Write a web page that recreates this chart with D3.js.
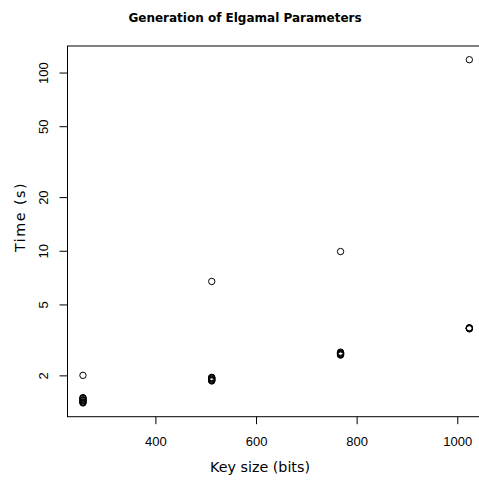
<!DOCTYPE html>
<html>
<head>
<meta charset="utf-8">
<script src="https://cdn.jsdelivr.net/npm/d3@7"></script>
<style>
  html, body { margin: 0; padding: 0; background: #fff; }
  svg { display: block; }
  text { font-family: "DejaVu Sans", sans-serif; fill: #000; }
</style>
</head>
<body>
<svg id="chart" width="479" height="480"></svg>
<script>
// Data (overlapping runs per key size)
const keySizes = [256, 512, 768, 1024];
const times256  = [2.0, 1.40, 1.41, 1.42, 1.44, 1.45, 1.46, 1.48, 1.49, 1.50];
const times512  = [6.73, 1.86, 1.87, 1.88, 1.90, 1.91, 1.93, 1.94, 1.95];
const times768  = [9.9, 2.60, 2.61, 2.63, 2.64, 2.66, 2.68, 2.70];
const times1024 = [118, 3.65, 3.66, 3.68, 3.69, 3.70];
const xTicks = [400, 600, 800, 1000];
const yTicks = [2, 5, 10, 20, 50, 100];
const titleText = "Generation of Elgamal Parameters";
const xLabel = "Key size (bits)";
const yLabel = "Time (s)";

(function () {
const groups = [times256, times512, times768, times1024];
const points = [];
groups.forEach((arr, i) => arr.forEach(v => points.push({x: keySizes[i], y: v})));

const svg = d3.select("#chart");
const mLeft = 67.5, mRight = 484.8, mTop = 46, mBottom = 416.7;
const tickFont = "Liberation Sans, Arial, sans-serif";

const xExt = d3.extent(keySizes);
const xPad = (xExt[1] - xExt[0]) * 0.04;
const x = d3.scaleLinear().domain([xExt[0] - xPad, xExt[1] + xPad]).range([mLeft, mRight]);

const yExt = d3.extent(points, d => Math.log10(d.y));
const yPad = (yExt[1] - yExt[0]) * 0.04;
const y = d3.scaleLog().domain([Math.pow(10, yExt[0] - yPad), Math.pow(10, yExt[1] + yPad)]).range([mBottom, mTop]);

// Box
svg.append("rect")
  .attr("x", mLeft).attr("y", mTop)
  .attr("width", mRight - mLeft).attr("height", mBottom - mTop)
  .attr("fill", "none").attr("stroke", "#000").attr("stroke-width", 1);

// X axis
const xAxis = d3.axisBottom(x).tickValues(xTicks).tickSize(7.5).tickPadding(12.5).tickFormat(d3.format("d"));
const gx = svg.append("g").attr("transform", `translate(0,${mBottom})`).call(xAxis);
gx.select(".domain").remove();
gx.selectAll(".tick text").style("font-size", "13px").style("font-family", tickFont).attr("fill", "#000");

// Y axis
const yAxis = d3.axisLeft(y).tickValues(yTicks).tickSize(8).tickFormat(d3.format("d"));
const gy = svg.append("g").attr("transform", `translate(${mLeft},0)`).call(yAxis);
gy.select(".domain").remove();
gy.selectAll(".tick text")
  .style("font-size", "13px").style("font-family", tickFont).attr("fill", "#000")
  .attr("x", null).attr("dy", null)
  .attr("text-anchor", "middle")
  .attr("transform", "translate(-23.5,0) rotate(-90)")
  .attr("y", 4);

// Points
svg.append("g").selectAll("circle").data(points).join("circle")
  .attr("cx", d => x(d.x)).attr("cy", d => y(d.y)).attr("r", 3.2)
  .attr("fill", "none").attr("stroke", "#000").attr("stroke-width", 1);

// Title and labels
svg.append("text").attr("x", 245).attr("y", 22).attr("text-anchor", "middle")
  .style("font-size", "12px").style("font-weight", "bold").text(titleText);
svg.append("text").attr("x", 260).attr("y", 471.5).attr("text-anchor", "middle")
  .style("font-size", "14.3px").text(xLabel);
svg.append("text").attr("transform", "translate(25,217) rotate(-90)").attr("text-anchor", "middle")
  .style("font-size", "14.3px").style("letter-spacing", "1.5px").text(yLabel);
})();
</script>
</body>
</html>
